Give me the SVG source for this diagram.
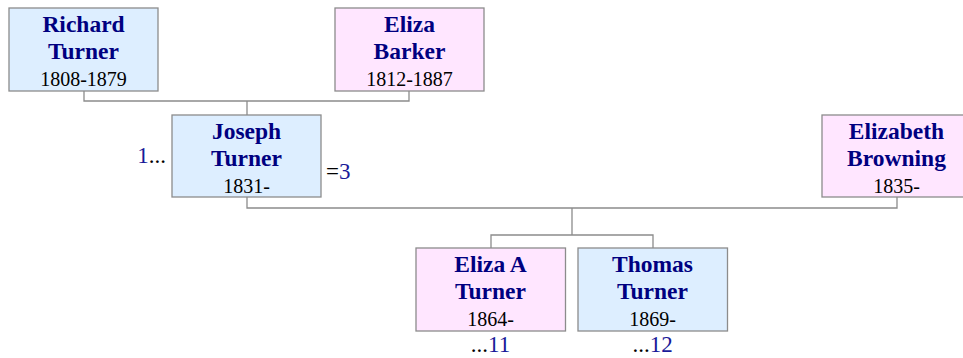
<svg xmlns="http://www.w3.org/2000/svg" width="963" height="358" viewBox="0 0 963 358">
<style>
.box{stroke:#8c8c8c;stroke-width:1.3}
.m{fill:#ddeeff}
.f{fill:#ffe6ff}
.nm{font-family:"Liberation Serif",serif;font-weight:bold;font-size:23.5px;fill:#000080;text-anchor:middle}
.yr{font-family:"Liberation Serif",serif;font-size:20px;fill:#000;text-anchor:middle}
.lk{font-family:"Liberation Serif",serif;font-size:23px;fill:#000}
.bl{fill:#1a1a99}
.con{fill:none;stroke:#8c8c8c;stroke-width:1.3}
</style>
<rect width="963" height="358" fill="#fff"/>
<g id="connectors">
<path class="con" d="M84,91V101H409V91M247,101V115"/>
<path class="con" d="M247,197V208H897V197M572,208V235M491,248V235H653V248"/>
</g>
<g id="richard">
<rect class="box m" x="9" y="8" width="149" height="83"/>
<text class="nm" x="83.5" y="32">Richard</text>
<text class="nm" x="83.5" y="59">Turner</text>
<text class="yr" x="83.5" y="86">1808-1879</text>
</g>
<g id="eliza_barker">
<rect class="box f" x="335" y="8" width="149" height="83"/>
<text class="nm" x="409.5" y="32">Eliza</text>
<text class="nm" x="409.5" y="59">Barker</text>
<text class="yr" x="409.5" y="86">1812-1887</text>
</g>
<g id="joseph">
<rect class="box m" x="172" y="115" width="149" height="82"/>
<text class="nm" x="246.5" y="139">Joseph</text>
<text class="nm" x="246.5" y="166">Turner</text>
<text class="yr" x="246.5" y="193">1831-</text>
<text class="lk" x="166" y="163" text-anchor="end"><tspan class="bl">1</tspan>...</text>
<text class="lk" x="326" y="179">=<tspan class="bl">3</tspan></text>
</g>
<g id="elizabeth">
<rect class="box f" x="822" y="115" width="149" height="82"/>
<text class="nm" x="896.5" y="139">Elizabeth</text>
<text class="nm" x="896.5" y="166">Browning</text>
<text class="yr" x="896.5" y="193">1835-</text>
</g>
<g id="eliza_a">
<rect class="box f" x="416" y="248" width="149.5" height="83"/>
<text class="nm" x="490.5" y="272">Eliza A</text>
<text class="nm" x="490.5" y="299">Turner</text>
<text class="yr" x="490.5" y="326">1864-</text>
<text class="lk" x="490.5" y="352" text-anchor="middle">...<tspan class="bl">11</tspan></text>
</g>
<g id="thomas">
<rect class="box m" x="578" y="248" width="149.5" height="83"/>
<text class="nm" x="652.5" y="272">Thomas</text>
<text class="nm" x="652.5" y="299">Turner</text>
<text class="yr" x="652.5" y="326">1869-</text>
<text class="lk" x="652.5" y="352" text-anchor="middle">...<tspan class="bl">12</tspan></text>
</g>
</svg>
